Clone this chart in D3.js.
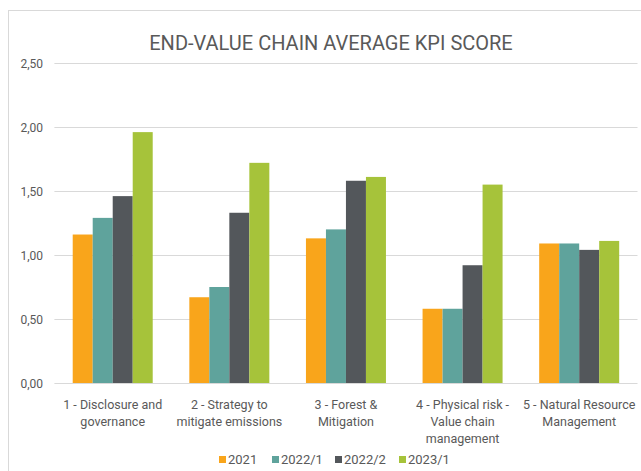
<!DOCTYPE html>
<html>
<head>
<meta charset="utf-8">
<script src="https://cdn.jsdelivr.net/npm/d3@7"></script>
<style>
  html, body { margin: 0; padding: 0; background: #ffffff; }
  svg { display: block; }
  text { font-family: Roboto, "Noto Sans", sans-serif; }
</style>
</head>
<body>
<svg id="chart" width="641" height="471"></svg>
<script>
// Categories (label lines) and series values
const categories = [
  ["1 - Disclosure and", "governance"],
  ["2 - Strategy to", "mitigate emissions"],
  ["3 - Forest &", "Mitigation"],
  ["4 - Physical risk -", "Value chain", "management"],
  ["5 - Natural Resource", "Management"]
];
const seriesNames = ["2021", "2022/1", "2022/2", "2023/1"];
const values2021  = [1.16, 0.67, 1.13, 0.58, 1.09];
const values2022a = [1.29, 0.75, 1.20, 0.58, 1.09];
const values2022b = [1.46, 1.33, 1.58, 0.92, 1.04];
const values2023a = [1.96, 1.72, 1.61, 1.55, 1.11];
const yTicks = [0, 0.5, 1.0, 1.5, 2.0, 2.5];
const colors = ["#F9A51B", "#5FA39C", "#53575B", "#A6C33A"];

const series = [values2021, values2022a, values2022b, values2023a];

const svg = d3.select("#chart");

// Chart frame
svg.append("rect")
  .attr("x", 8.5).attr("y", 10.5)
  .attr("width", 660).attr("height", 480)
  .attr("fill", "#ffffff")
  .attr("stroke", "#D9D9D9").attr("stroke-width", 1);

// Title
svg.append("text")
  .attr("x", 331).attr("y", 50)
  .attr("text-anchor", "middle")
  .attr("font-size", 20)
  .attr("fill", "#595959")
  .text("END-VALUE CHAIN AVERAGE KPI SCORE");

const plotLeft = 54.4, plotRight = 637.5;
const y = d3.scaleLinear().domain([0, 2.5]).range([383, 63]);
const x0 = d3.scaleBand()
  .domain(d3.range(categories.length))
  .range([plotLeft, plotRight])
  .paddingInner(0.314).paddingOuter(0.157);
const x1 = d3.scaleBand()
  .domain(d3.range(seriesNames.length))
  .range([0, x0.bandwidth()]);

// Gridlines
svg.append("g")
  .selectAll("line")
  .data(yTicks)
  .join("line")
  .attr("x1", plotLeft).attr("x2", plotRight)
  .attr("y1", d => Math.round(y(d)) + 0.5)
  .attr("y2", d => Math.round(y(d)) + 0.5)
  .attr("stroke", "#D9D9D9").attr("stroke-width", 1);

// Y axis labels
const fmt = d => d3.format(".2f")(d).replace(".", ",");
svg.append("g")
  .selectAll("text")
  .data(yTicks)
  .join("text")
  .attr("x", 43)
  .attr("y", d => y(d) + 4.5)
  .attr("text-anchor", "end")
  .attr("font-size", 12)
  .attr("fill", "#595959")
  .text(fmt);

// Bars
const groups = svg.append("g")
  .selectAll("g")
  .data(categories.map((c, i) => i))
  .join("g")
  .attr("transform", i => `translate(${x0(i)},0)`);

groups.selectAll("rect")
  .data(i => series.map((s, k) => ({ k, v: s[i] })))
  .join("rect")
  .attr("x", d => x1(d.k))
  .attr("width", x1.bandwidth())
  .attr("y", d => y(d.v))
  .attr("height", d => y(0) - y(d.v))
  .attr("fill", d => colors[d.k]);

// Category labels
const catLabels = svg.append("g")
  .selectAll("text")
  .data(categories)
  .join("text")
  .attr("text-anchor", "middle")
  .attr("font-size", 12.5)
  .attr("fill", "#595959")
  .attr("transform", (c, i) => `translate(${x0(i) + x0.bandwidth() / 2},409)`);
catLabels.selectAll("tspan")
  .data(c => c)
  .join("tspan")
  .attr("x", 0)
  .attr("dy", (d, j) => j === 0 ? 0 : 17)
  .text(d => d);

// Legend
const legendX = [219, 272, 335, 399];
const legend = svg.append("g")
  .selectAll("g")
  .data(seriesNames)
  .join("g")
  .attr("transform", (d, i) => `translate(${legendX[i]},0)`);
legend.append("rect")
  .attr("x", 0).attr("y", 456)
  .attr("width", 7).attr("height", 7)
  .attr("fill", (d, i) => colors[i]);
legend.append("text")
  .attr("x", 9).attr("y", 464)
  .attr("font-size", 13)
  .attr("fill", "#595959")
  .text(d => d);
</script>
</body>
</html>
